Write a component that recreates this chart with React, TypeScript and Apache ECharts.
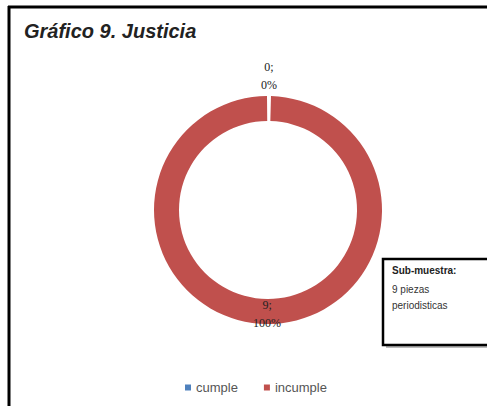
import React, { useEffect, useRef } from "react";
import * as echarts from "echarts";

const categories = ["cumple", "incumple"];
const values = [0, 9];
const percents = ["0%", "100%"];
const colors = ["#4F81BD", "#C0504D"];
const titleText = "Gráfico 9. Justicia";
const noteLines = ["Sub-muestra:", "9 piezas", "periodisticas"];

export default function App() {
  const ref = useRef<HTMLDivElement>(null);
  useEffect(() => {
    if (!ref.current) return;
    const chart = echarts.init(ref.current, null, { renderer: "svg" });
    chart.setOption({
      animation: false,
      backgroundColor: "#ffffff",
      title: {
        text: titleText,
        left: 19,
        top: 16,
        textStyle: {
          fontFamily: "Liberation Sans",
          fontSize: 20,
          fontWeight: "bold",
          fontStyle: "italic",
          color: "#222",
        },
      },
      legend: {
        data: categories,
        left: 180,
        top: 376,
        itemWidth: 6,
        itemHeight: 6,
        itemGap: 26,
        icon: "rect",
        textStyle: { fontFamily: "Liberation Sans", fontSize: 13, color: "#555" },
      },
      graphic: [
        { type: "line", shape: { x1: 8, y1: 7, x2: 487, y2: 7 }, style: { stroke: "#000", lineWidth: 3 } },
        { type: "line", shape: { x1: 9, y1: 6, x2: 9, y2: 406 }, style: { stroke: "#000", lineWidth: 3 } },
        {
          type: "rect",
          shape: { x: 386, y: 262, width: 110, height: 86 },
          style: { fill: "#bbb" },
        },
        {
          type: "rect",
          shape: { x: 383, y: 259, width: 110, height: 86 },
          style: { fill: "#fff", stroke: "#000", lineWidth: 2.5 },
        },
        {
          type: "text",
          x: 392,
          y: 265,
          style: {
            text: noteLines[0],
            font: "bold 10px 'Liberation Sans'",
            fill: "#222",
          },
        },
        {
          type: "text",
          x: 392,
          y: 281,
          style: {
            text: noteLines[1] + "\n" + noteLines[2],
            font: "10px 'Liberation Sans'",
            lineHeight: 16,
            fill: "#333",
          },
        },
      ],
      series: [
        {
          type: "pie",
          center: [268, 210],
          radius: [89, 114],
          startAngle: 90,
          clockwise: true,
          padAngle: 1,
          stillShowZeroSum: true,
          minShowLabelAngle: 0,
          avoidLabelOverlap: false,
          label: {
            show: true,
            position: "inside",
            color: "#222",
            fontFamily: "Liberation Serif",
            fontSize: 12,
            lineHeight: 18,
            formatter: (p: any) => `${values[p.dataIndex]};\n${percents[p.dataIndex]}`,
          },
          labelLine: { show: false },
          data: categories.map((c, i) => ({
            name: c,
            value: values[i],
            itemStyle: { color: colors[i] },
            label: i === 0 ? { offset: [0, -30] } : { offset: [0, 0] },
          })),
        },
      ],
    });
    return () => chart.dispose();
  }, []);
  return (
    <div
      ref={ref}
      style={{ position: "absolute", left: 0, top: 0, width: 487, height: 406 }}
    />
  );
}
